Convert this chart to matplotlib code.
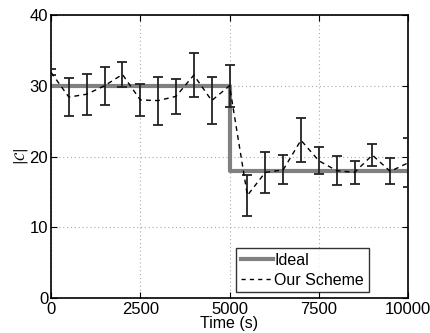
import numpy as np
import matplotlib.pyplot as plt
from matplotlib.lines import Line2D

plt.rcParams['font.family'] = ['Liberation Sans', 'DejaVu Sans']
plt.rcParams['mathtext.fontset'] = 'dejavusans'

# Ideal step response
ideal_t = [0, 5000, 5000, 10000]
ideal_c = [30, 30, 18, 18]

# Measured scheme: mean and error bar half-width at every 500 s
time = [0, 500, 1000, 1500, 2000, 2500, 3000, 3500, 4000, 4500, 5000,
        5500, 6000, 6500, 7000, 7500, 8000, 8500, 9000, 9500, 10000]
scheme = [31.9, 28.4, 28.8, 30.0, 31.6, 28.0, 27.9, 28.5, 31.5, 27.9, 30.0,
          14.5, 17.75, 18.1, 22.3, 19.4, 18.0, 17.75, 20.2, 17.9, 19.1]
err = [0.4, 2.7, 2.9, 2.7, 1.8, 2.3, 3.4, 2.45, 3.1, 3.3, 2.95,
       2.9, 2.95, 2.05, 3.1, 1.9, 2.05, 1.65, 1.6, 1.85, 3.45]

fig = plt.figure(figsize=(4.30, 3.33), dpi=100)
ax = fig.add_axes([0.1186, 0.105, 0.8304, 0.85])

ax.plot(ideal_t, ideal_c, color='#808080', lw=3, label='Ideal', zorder=2)
ax.errorbar(time, scheme, yerr=err, color='black', ls=(0, (3.5, 3)), lw=1,
            ecolor='#222222', elinewidth=1.3, capsize=3.5, capthick=1.3,
            label='Our Scheme', zorder=3)

ax.set_xlim(0, 10000)
ax.set_ylim(0, 40)
ax.set_xticks([0, 2500, 5000, 7500, 10000])
ax.set_yticks([0, 10, 20, 30, 40])
ax.grid(True, ls=(0, (1, 2.5)), color='#aaaaaa', lw=0.8)
ax.tick_params(direction='in', top=True, right=True, labelsize=12, length=4)
ax.tick_params(axis='x', pad=3)
ax.tick_params(axis='y', pad=2)
for s in ax.spines.values():
    s.set_linewidth(1.2)

ax.set_xlabel('Time (s)', fontsize=11.5, labelpad=-1)
ax.set_ylabel(r'$|\mathcal{C}|$', fontsize=10, labelpad=0)

labels = ['Ideal', 'Our Scheme']
handles = [Line2D([], [], color='#808080', lw=3),
           Line2D([], [], color='black', ls=(0, (3, 3)), lw=1)]
leg = ax.legend(handles, labels, loc='lower right', bbox_to_anchor=(0.89, 0.02),
                fontsize=11.5, fancybox=False, edgecolor='black',
                handlelength=2.0, handletextpad=0.1, borderpad=0.3,
                labelspacing=0.3, borderaxespad=0)
leg.get_frame().set_linewidth(1.0)

fig.savefig('out.png', dpi=100)
